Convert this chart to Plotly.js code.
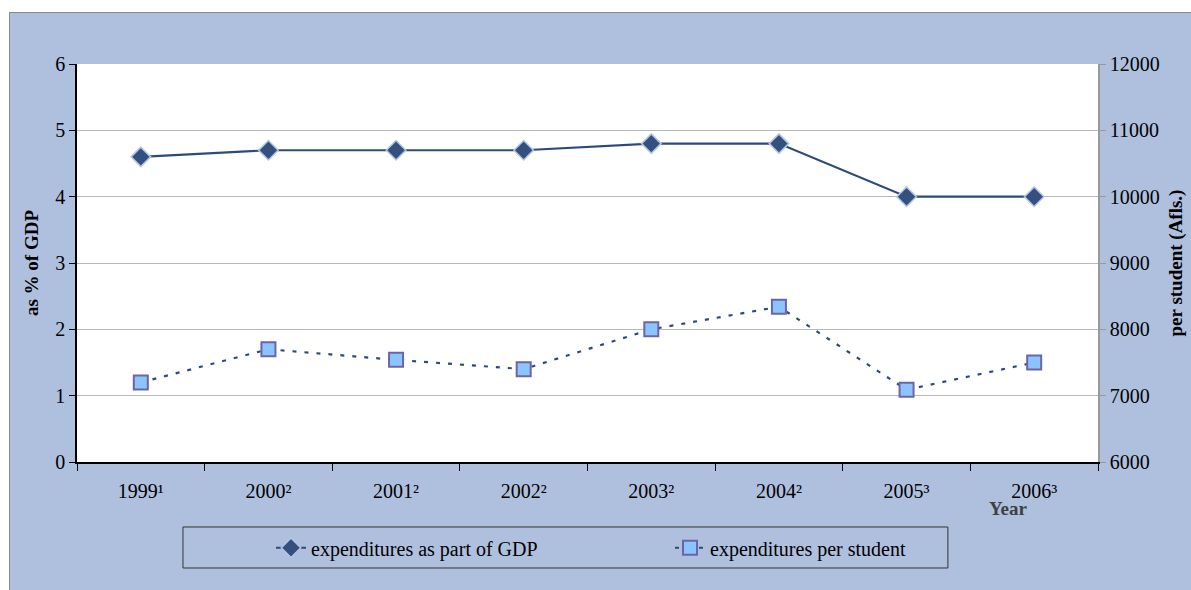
<!DOCTYPE html>
<html><head><meta charset="utf-8">
<script src="https://cdn.plot.ly/plotly-3.0.1.min.js"></script>
<style>
html,body{margin:0;padding:0;background:#fff;overflow:hidden}
#chart{position:absolute;left:9px;top:12px;width:1181px;height:577px;border-left:1px solid #8a8a8a;border-top:1px solid #8a8a8a}
</style></head><body>
<div id="chart"></div>
<script>
const years = ["1999¹","2000²","2001²","2002²","2003²","2004²","2005³","2006³"];
const gdpShare = [4.6, 4.7, 4.7, 4.7, 4.8, 4.8, 4.0, 4.0];
const perStudent = [7200, 7700, 7540, 7400, 8000, 8340, 7090, 7500];
const seriesNames = ["expenditures as part of GDP", "expenditures per student"];

const fam = "Liberation Serif, Times New Roman, serif";
const fs = 20;
const traces = [
  {x: years, y: gdpShare, name: seriesNames[0], type: "scatter", mode: "lines+markers",
   line: {color: "#2E4A7D", width: 2.2},
   marker: {symbol: "diamond", size: 15, color: "#34507F", line: {color: "#B4C6E6", width: 1.5}}},
  {x: years, y: perStudent, name: seriesNames[1], type: "scatter", mode: "lines+markers", yaxis: "y2",
   line: {color: "#2E4A7D", width: 2.2, dash: "4px,8px"},
   marker: {symbol: "square", size: 14, color: "#8CC4FF", line: {color: "#6C64A8", width: 2}}}
];
const layout = {
  width: 1181, height: 577,
  paper_bgcolor: "#AFC0DF", plot_bgcolor: "#fff",
  margin: {l: 67, r: 93, t: 51, b: 128},
  font: {family: fam, size: fs, color: "#000"},
  showlegend: true,
  legend: {orientation: "h", xref: "container", yref: "container", x: 0.221, xanchor: "left",
           y: 0.107, yanchor: "top", bgcolor: "rgba(0,0,0,0)", borderwidth: 0,
           font: {family: fam, size: fs, color: "#000"}, entrywidth: 354},
  shapes: [{type: "rect", xref: "paper", yref: "paper", x0: 0.1038, x1: 0.853, y0: -0.1633, y1: -0.2663,
            line: {color: "#333", width: 1}, fillcolor: "rgba(0,0,0,0)", layer: "above"}],
  xaxis: {type: "category", range: [-0.5, 7.5], tickson: "boundaries", ticks: "outside", ticklen: 7,
          tickcolor: "#000", showline: true, linecolor: "#000", linewidth: 1.5, showgrid: false,
          tickfont: {family: fam, size: fs}, zeroline: false, ticklabelstandoff: 10},
  yaxis: {range: [0, 6], dtick: 1, ticks: "outside", ticklen: 6, tickcolor: "#000",
          showline: true, linecolor: "#000", linewidth: 1.5, gridcolor: "#B8B8B8", gridwidth: 1,
          zeroline: false, tickfont: {family: fam, size: fs},
          title: {text: "<b>as % of GDP</b>", font: {family: fam, size: 19}, standoff: 12}},
  yaxis2: {range: [6000, 12000], dtick: 1000, tickformat: "d", overlaying: "y", side: "right",
           ticks: "outside", ticklen: 6, tickcolor: "#999", showline: true, linecolor: "#999", linewidth: 1.5,
           showgrid: false, zeroline: false, tickfont: {family: fam, size: fs},
           title: {text: "<b>per student (Afls.)</b>", font: {family: fam, size: 19}, standoff: 10}},
  annotations: [{text: "<b>Year</b>", xref: "paper", yref: "paper", x: 0.912, y: -0.1156, xanchor: "center",
                 yanchor: "middle", showarrow: false, font: {family: fam, size: 19, color: "#404040"}}]
};
Plotly.newPlot("chart", traces, layout, {displayModeBar: false});
</script></body></html>
